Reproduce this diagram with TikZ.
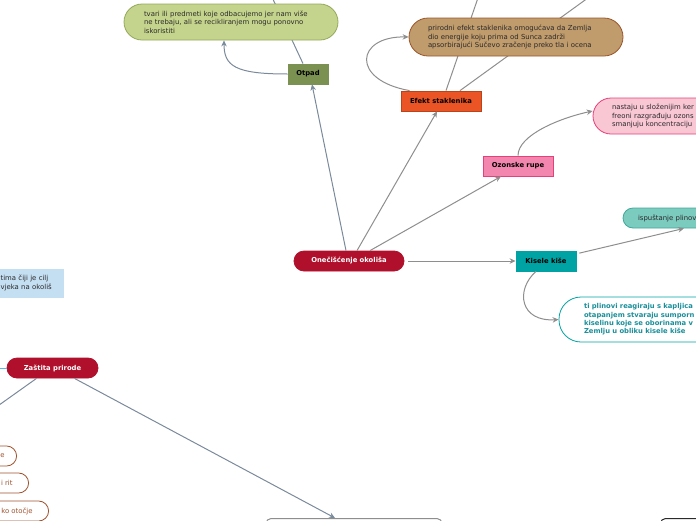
\documentclass[tikz,border=0pt]{standalone}
\usepackage{fontspec}
\setmainfont{DejaVu Sans}
\usetikzlibrary{arrows.meta}

\definecolor{crimson}{HTML}{B0102B}
\definecolor{olivedark}{HTML}{7B9152}
\definecolor{olivelight}{HTML}{C5D48C}
\definecolor{olivemid}{HTML}{93A95A}
\definecolor{tan}{HTML}{C09B6C}
\definecolor{tanborder}{HTML}{9B5428}
\definecolor{orangered}{HTML}{EB5424}
\definecolor{orangeborder}{HTML}{B8441C}
\definecolor{pinkdark}{HTML}{F386AE}
\definecolor{pinkborder}{HTML}{E6407A}
\definecolor{pinklight}{HTML}{F9C6D4}
\definecolor{tealdark}{HTML}{00A3A3}
\definecolor{tealborder}{HTML}{008C8C}
\definecolor{teallight}{HTML}{7CCBBF}
\definecolor{tealmid}{HTML}{40A89A}
\definecolor{tealtext}{HTML}{1A8F9A}
\definecolor{lightblue}{HTML}{C5DFF2}
\definecolor{skyblue}{HTML}{5BB8E6}
\definecolor{linegray}{HTML}{8E8E8E}
\definecolor{bluegray}{HTML}{7A8A9A}
\definecolor{brownpill}{HTML}{A0522D}
\definecolor{textgray}{HTML}{2A2A2A}

\begin{document}
\begin{tikzpicture}[x=1pt, y=-1pt,
    tema/.style={draw, line width=0.8pt, minimum height=20pt, inner sep=0pt, font=\bfseries\fontsize{6.8}{8}\selectfont},
    opis/.style={draw, line width=0.8pt, align=left, inner ysep=0pt, text=textgray, font=\fontsize{6.9}{8.5}\selectfont},
    lista/.style={draw=brownpill, line width=0.8pt, fill=white, rounded corners=10pt, minimum height=20pt, inner xsep=16pt, inner ysep=0pt, anchor=east, text=brownpill, font=\fontsize{6.9}{8}\selectfont},
    veza/.style={draw=linegray, line width=1pt, -{Stealth[length=6pt, width=5.5pt]}},
    crta/.style={draw=linegray, line width=1pt}]
  \useasboundingbox (0,0) rectangle (696,520);
  \clip (0,0) rectangle (696,520);

  \node[tema, fill=crimson, draw=crimson, text=white, rounded corners=10pt, minimum width=110pt] (oneciscenje) at (349,261) {Onečišćenje okoliša};
  \node[tema, fill=olivedark, draw=olivedark, minimum width=40pt] (otpad) at (308,74) {Otpad};
  \node[tema, fill=orangered, draw=orangeborder, minimum width=80pt] (efekt) at (441,101) {Efekt staklenika};
  \node[tema, fill=pinkdark, draw=pinkborder, minimum width=70pt] (ozon) at (518,166) {Ozonske rupe};
  \node[tema, fill=tealdark, draw=tealdark, minimum width=60pt] (kisele) at (546,261) {Kisele kiše};

  % veze prema gore, izvan slike
  \coordinate (gore1) at (271,-5);
  \coordinate (gore2) at (479,-5);
  \coordinate (gore3) at (592,-5);
  \draw [crta, draw=bluegray] ([xshift=-5pt]otpad.north) -- (gore1);
  \draw [crta] ([xshift=5pt]efekt.north) -- (gore2);
  \draw [crta] ([xshift=19pt]efekt.north) -- (gore3);

  \node[opis, fill=olivelight, draw=olivemid, rounded corners=18pt, minimum height=36pt, text width=174pt, inner xsep=20pt] (otpadopis) at (231,22) {tvari ili predmeti koje odbacujemo jer nam više\\ne trebaju, ali se recikliranjem mogu ponovno\\iskoristiti};
  \node[opis, fill=tan, draw=tanborder, rounded corners=19pt, minimum height=38pt, text width=176pt, inner xsep=19pt] (efektopis) at (516,37) {prirodni efekt staklenika omogućava da Zemlja\\dio energije koju prima od Sunca zadrži\\apsorbirajući Sučevo zračenje preko tla i ocena};
  \node[opis, fill=pinklight, draw=pinkborder, rounded corners=18pt, minimum height=36pt, text width=176pt, inner xsep=19pt] (ozonopis) at (700,116) {nastaju u složenijim ker\\freoni razgrađuju ozons\\smanjuju koncentraciju};
  \node[opis, fill=teallight, draw=tealmid, rounded corners=10pt, minimum height=20pt, text width=130pt, inner xsep=15pt] (kiseleopis1) at (703,218) {ispuštanje plinov};
  \node[opis, fill=white, draw=tealdark, rounded corners=22pt, minimum height=45pt, text width=164pt, inner xsep=25pt, text=tealtext, font=\bfseries\fontsize{6.8}{8.3}\selectfont] (kiseleopis2) at (666,319.5) {ti plinovi reagiraju s kapljica\\otapanjem stvaraju sumporn\\kiselinu koje se oborinama v\\Zemlju u obliku kisele kiše};

  \draw [veza, draw=bluegray] ([xshift=-3pt]oneciscenje.north) -- ([xshift=4pt]otpad.south);
  \draw [veza] ([xshift=8pt]oneciscenje.north) -- ([xshift=-4pt]efekt.south);
  \draw [veza] ([xshift=21pt]oneciscenje.north) -- ([xshift=-17pt]ozon.south);
  \draw [veza, shorten <=4pt] (oneciscenje.east) -- (kisele.west);

  \draw [veza, draw=bluegray] (otpad.west) .. controls (235,74) and (224,66) .. ([xshift=-7pt]otpadopis.south);
  \draw [veza] ([xshift=9pt]efekt.north west) .. controls (350,80) and (356,36) .. (efektopis.west);
  \draw [veza] (ozon.north) .. controls (518,135) and (560,118) .. ([yshift=5pt]ozonopis.west);
  \draw [veza, shorten <=3pt] (kisele) -- ([xshift=-19pt]kiseleopis1.south);
  \draw [veza] ([xshift=-10pt]kisele.south) .. controls (515,290) and (520,322) .. (kiseleopis2.west);

  % lijevi dio
  \node[opis, fill=lightblue, draw=lightblue, anchor=east, minimum height=28pt, text width=54pt, inner xsep=9pt] (cilj) at (64,283) {tima čiji je cilj\\vjeka na okoliš};
  \node[tema, fill=crimson, draw=crimson, text=white, rounded corners=10pt, minimum width=91pt] (zastita) at (52.5,368) {Zaštita prirode};
  \coordinate (lijevo) at (-10,368);
  \coordinate (lijevodolje) at (-36,430);
  \draw [line width=1pt, draw=skyblue] (lijevo) -- (zastita.west);
  \draw [crta, draw=bluegray] ([xshift=-16pt]zastita.south) -- (lijevodolje);

  \node[lista, inner xsep=12pt] (lista1) at (17,456) {e};
  \node[lista] (lista2) at (29,483) {i rit};
  \node[lista] (lista3) at (49,511) {ko otočje};

  \node[draw=linegray, line width=1pt, fill=white, rounded corners=5pt, minimum width=176pt, minimum height=30pt, anchor=north] (dno1) at (354,518) {};
  \node[draw=textgray, line width=1pt, fill=white, rounded corners=5pt, minimum width=80pt, minimum height=30pt, anchor=north west] (dno2) at (660,518) {};
  \draw [veza, draw=bluegray] ([xshift=22pt]zastita.south) -- ([xshift=-19pt]dno1.north);
\end{tikzpicture}
\end{document}
